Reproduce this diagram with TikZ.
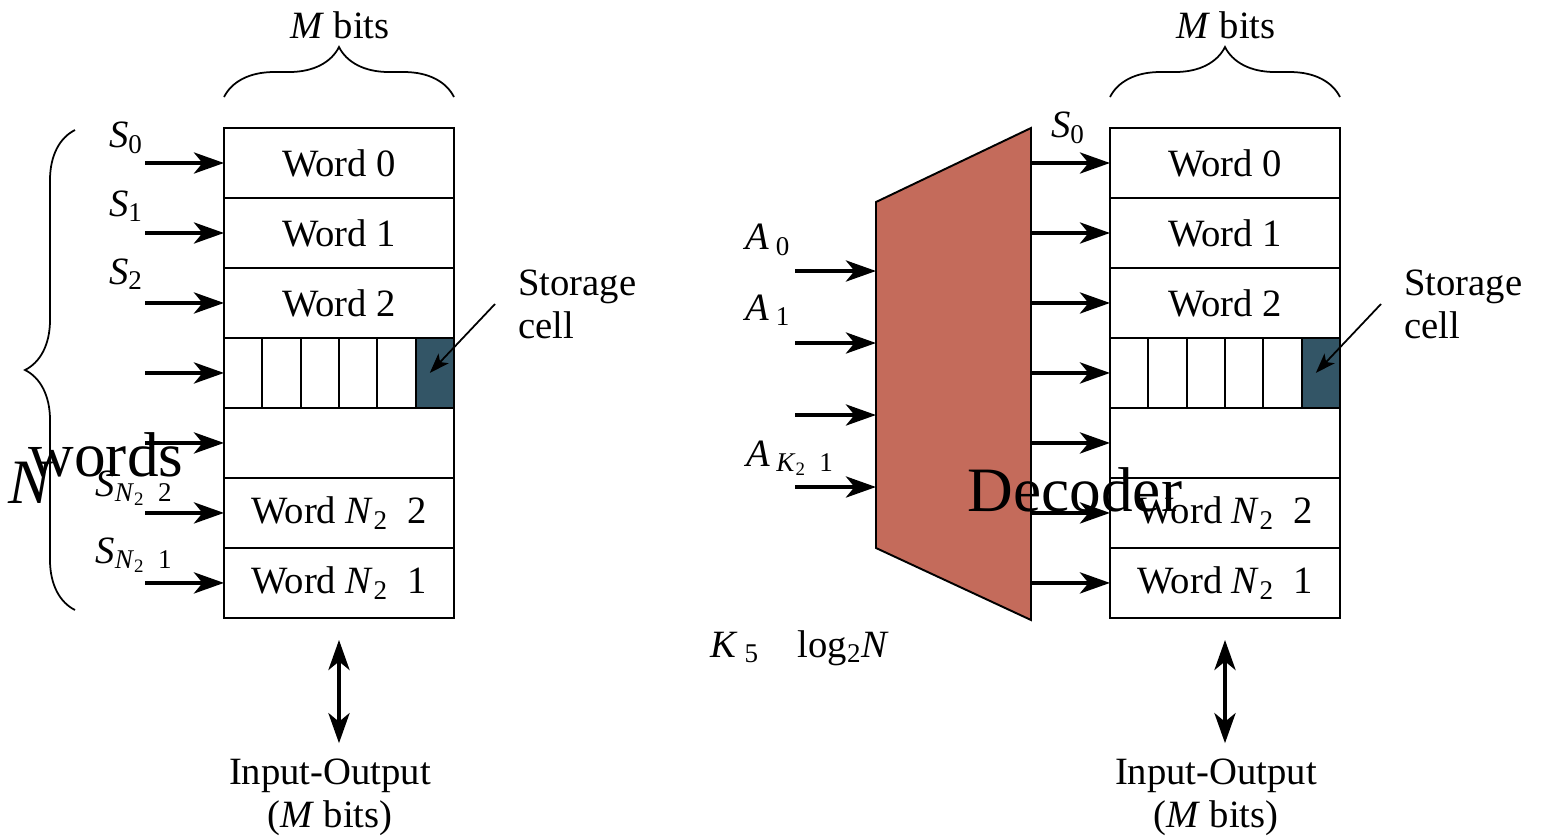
\documentclass[tikz,border=0pt]{standalone}
\usepackage{fontspec}
\setmainfont{Liberation Serif}
\usetikzlibrary{positioning, calc, arrows.meta, decorations.pathreplacing}
\definecolor{cellblue}{RGB}{51,85,102}
\definecolor{decred}{RGB}{196,107,91}

\begin{document}
\begin{tikzpicture}[x=0.02cm, y=-0.02cm]
	% Styles
	\tikzset{
		word/.style={draw, line width=1.1pt, outer sep=0pt, inner sep=0pt, minimum width=4.6cm, minimum height=1.4cm, font=\fontsize{22}{24.5}\selectfont},
		sig/.style={-{Stealth[length=0.6cm, width=0.42cm, inset=0.17cm]}, line width=2.6pt},
		busarrow/.style={{Stealth[length=0.6cm, width=0.42cm, inset=0.17cm]}-{Stealth[length=0.6cm, width=0.42cm, inset=0.17cm]}, line width=2.6pt},
		pointer/.style={-{Stealth[length=0.4cm, width=0.28cm, inset=0.1cm]}, line width=1pt},
		lbl/.style={inner sep=0pt, font=\fontsize{22}{24.5}\selectfont},
		biglbl/.style={inner sep=0pt, font=\fontsize{36}{40}\selectfont},
		bracket/.style={decorate, decoration={brace, amplitude=1cm}, line width=1pt}
	}
	\useasboundingbox (0,0) rectangle (1542,836);

	% Left memory: N words of M bits
	\node[word] (lw0) at (339,163) {Word 0};
	\node[word, below=0pt of lw0] (lw1) {Word 1};
	\node[word, below=0pt of lw1] (lw2) {Word 2};
	\node[word, below=0pt of lw2] (lw3) {};
	\node[word, below=0pt of lw3] (lw4) {};
	\node[word, below=0pt of lw4] (lw5) {Word \textit{N}\textsubscript{2}\ \ 2};
	\node[word, below=0pt of lw5] (lw6) {Word \textit{N}\textsubscript{2}\ \ 1};
	\node[word, minimum width=0.767cm, fill=cellblue, anchor=east] (lcell) at (lw3.east) {};
	\foreach \k in {1,...,5}
		\draw[line width=1.1pt] ($(lw3.north west)!\k/6!(lw3.north east)$) -- ($(lw3.south west)!\k/6!(lw3.south east)$);

	% Select lines
	\foreach \k in {0,...,6}
		\draw[sig] ([xshift=-1.58cm]lw\k.west) -- (lw\k.west);
	\node[lbl] (ls0) at (126,138) {\textit{S}\textsubscript{0}};
	\node[lbl] (ls1) at (126,206) {\textit{S}\textsubscript{1}};
	\node[lbl] (ls2) at (126,274) {\textit{S}\textsubscript{2}};
	\node[lbl] (lsa) at (134,488) {\textit{S}\textsubscript{\textit{N}\textsubscript{2}\ \ 2}};
	\node[lbl] (lsb) at (134,555) {\textit{S}\textsubscript{\textit{N}\textsubscript{2}\ \ 1}};

	% Braces
	\draw[bracket] ([yshift=0.62cm]lw0.north west) -- ([yshift=0.62cm]lw0.north east);
	\node[lbl] (lm) at (340,25) {\textit{M} bits};
	\draw[bracket] (75,610) -- (75,130);
	\node[biglbl, font=\fontsize{36}{40}\selectfont\itshape] (lnn) at (30,483) {N};
	\node[biglbl] (lwords) at (106,455) {words};

	% Storage cell
	\node[lbl, anchor=west, align=left] (lstore) at (518,304) {Storage\\cell};
	\draw[pointer] ([xshift=-0.46cm]lstore.west) -- ([xshift=-0.1cm]lcell.center);

	% Input-Output
	\node[lbl, align=center] (lio) at (330,797) {Input-Output\\(\textit{M} bits)};
	\draw[busarrow] ([yshift=-0.44cm]lw6.south) -- ($(lio.north -| lw6.south)+(0,0.3cm)$);

	% Right memory
	\node[word] (rw0) at (1225,163) {Word 0};
	\node[word, below=0pt of rw0] (rw1) {Word 1};
	\node[word, below=0pt of rw1] (rw2) {Word 2};
	\node[word, below=0pt of rw2] (rw3) {};
	\node[word, below=0pt of rw3] (rw4) {};
	\node[word, below=0pt of rw4] (rw5) {Word \textit{N}\textsubscript{2}\ \ 2};
	\node[word, below=0pt of rw5] (rw6) {Word \textit{N}\textsubscript{2}\ \ 1};
	\node[word, minimum width=0.767cm, fill=cellblue, anchor=east] (rcell) at (rw3.east) {};
	\foreach \k in {1,...,5}
		\draw[line width=1.1pt] ($(rw3.north west)!\k/6!(rw3.north east)$) -- ($(rw3.south west)!\k/6!(rw3.south east)$);

	\draw[bracket] ([yshift=0.62cm]rw0.north west) -- ([yshift=0.62cm]rw0.north east);
	\node[lbl] (rm) at (1226,25) {\textit{M} bits};

	\node[lbl, anchor=west, align=left] (rstore) at (1404,304) {Storage\\cell};
	\draw[pointer] ([xshift=-0.46cm]rstore.west) -- ([xshift=-0.1cm]rcell.center);

	\node[lbl, align=center] (rio) at (1216,797) {Input-Output\\(\textit{M} bits)};
	\draw[busarrow] ([yshift=-0.44cm]rw6.south) -- ($(rio.north -| rw6.south)+(0,0.3cm)$);

	% Decoder
	\coordinate (dtl) at (876,202);
	\coordinate (dtr) at (1031,128);
	\coordinate (dbr) at (1031,620);
	\coordinate (dbl) at (876,548);
	\draw[fill=decred, line width=1.1pt] (dtl) -- (dtr) -- (dbr) -- (dbl) -- cycle;

	% Address inputs
	\foreach \y/\k in {271/0, 343/1, 415/2, 487/3} {
		\coordinate (ain\k) at (795,\y);
		\draw[sig] (ain\k) -- (ain\k -| dtl);
	}
	\node[lbl] (la0) at (768,240) {\textit{A}\,\textsubscript{0}};
	\node[lbl] (la1) at (768,310) {\textit{A}\,\textsubscript{1}};
	\node[lbl] (lak) at (790,458) {\textit{A}\,\textsubscript{\textit{K}\textsubscript{2}\ \ 1}};
	\node[lbl] (lk) at (800,648) {\textit{K}\,\textsubscript{5}\quad log\textsubscript{2}\textit{N}};

	% Decoder outputs
	\foreach \k in {0,...,6}
		\draw[sig] (rw\k.west -| dtr) -- (rw\k.west);
	\node[lbl] (rs0) at (1068,128) {\textit{S}\textsubscript{0}};
	\node[biglbl] (dlabel) at (1075,490) {Decoder};
\end{tikzpicture}
\end{document}
